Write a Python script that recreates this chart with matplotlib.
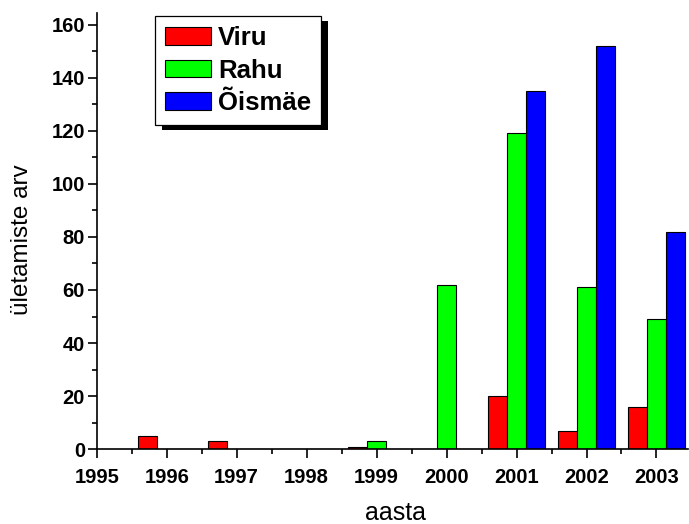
import numpy as np
import matplotlib.pyplot as plt
from matplotlib.patches import Rectangle
from matplotlib.transforms import IdentityTransform

plt.rcParams["font.family"] = ["Liberation Sans", "DejaVu Sans"]

years = [1996, 1997, 1998, 1999, 2000, 2001, 2002, 2003]
viru = [5, 3, 0, 1, 0, 20, 7, 16]
rahu = [0, 0, 0, 3, 62, 119, 61, 49]
oismae = [0, 0, 0, 0, 0, 135, 152, 82]

series = [("Viru", viru, "#ff0000"),
          ("Rahu", rahu, "#00ff00"),
          ("Õismäe", oismae, "#0000ff")]

fig = plt.figure(figsize=(6.89, 5.24), dpi=100)
ax = fig.add_axes([0.1404, 0.1426, 0.8581, 0.8324])

x = np.array(years, dtype=float)
width = 0.27
offsets = [-0.27, 0.0, 0.27]
for (name, vals, color), off in zip(series, offsets):
    ax.bar(x + off, vals, width, color=color, edgecolor="black",
           linewidth=0.8, label=name, zorder=2)

ax.set_xlim(1995, 2003.45)
ax.set_ylim(0, 164.3)
ax.set_xticks(np.arange(1995, 2004))
ax.set_xticks(np.arange(1995.5, 2003.5, 1.0), minor=True)
ax.set_yticks(np.arange(0, 161, 20))
ax.set_yticks(np.arange(10, 161, 20), minor=True)

for side in ["top", "right"]:
    ax.spines[side].set_visible(False)
for side in ["left", "bottom"]:
    ax.spines[side].set_linewidth(1.2)
    ax.spines[side].set_zorder(3)

ax.tick_params(which="major", direction="out", length=6.5, width=1.2,
               labelsize=14.5)
ax.tick_params(axis="x", which="major", pad=7)
ax.tick_params(axis="y", which="major", pad=2)
ax.tick_params(which="minor", direction="out", length=3.5, width=1.2)
for lbl in ax.get_xticklabels() + ax.get_yticklabels():
    lbl.set_fontweight("bold")

ax.set_xlabel("aasta", fontsize=18)
ax.xaxis.set_label_coords(0.505, -0.162, transform=ax.transAxes)
ax.xaxis.label.set_va("baseline")
ax.set_ylabel("ületamiste arv", fontsize=17.5)
ax.yaxis.set_label_coords(-0.108, 0.48)

leg = ax.legend(loc="upper left", bbox_to_anchor=(0.0986, 0.993),
                prop={"weight": "bold", "size": 18.5},
                frameon=True, fancybox=False, edgecolor="black",
                framealpha=1, handlelength=1.79, handleheight=0.66,
                handletextpad=0.27, labelspacing=0.33, borderpad=0.39,
                borderaxespad=0)
leg.get_frame().set_linewidth(0.9)
leg.set_zorder(6)

# solid drop shadow behind the legend box
fig.canvas.draw()
bb = leg.get_window_extent()
ax.add_patch(Rectangle((bb.x0 + 7, bb.y0 - 5), bb.width, bb.height,
                       transform=IdentityTransform(), facecolor="black",
                       edgecolor="none", zorder=5, clip_on=False))

fig.savefig("out.png", dpi=100)
